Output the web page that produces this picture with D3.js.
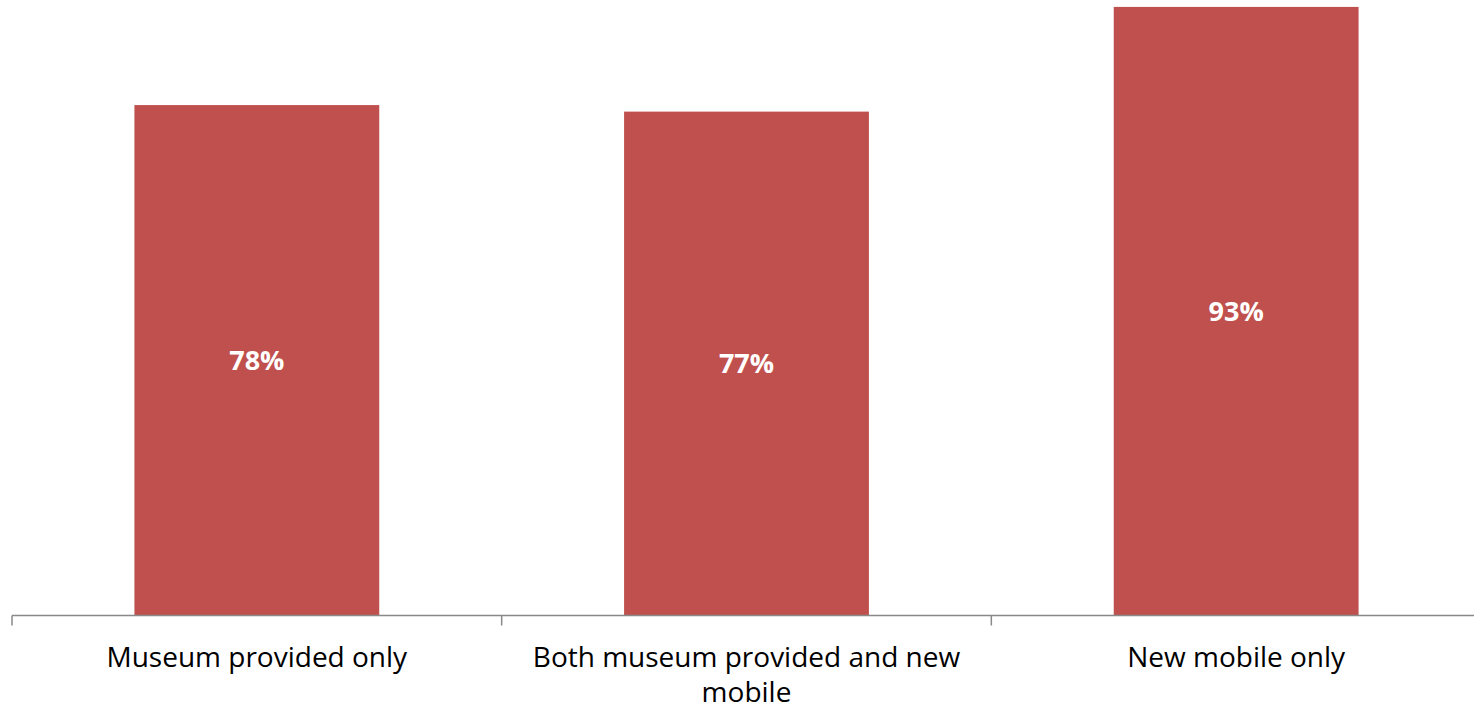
<!DOCTYPE html>
<html>
<head>
<meta charset="utf-8">
<script src="https://cdn.jsdelivr.net/npm/d3@7"></script>
<style>
  body { margin: 0; background: #fff; }
  text { font-family: "Open Sans", sans-serif; }
</style>
</head>
<body>
<svg width="1474" height="709"></svg>
<script>
var categories = ["Museum provided only", "Both museum provided and new mobile", "New mobile only"];
var values = [78, 77, 93];
var labelLines = [["Museum provided only"], ["Both museum provided and new", "mobile"], ["New mobile only"]];

var svg = d3.select("svg"),
    width = +svg.attr("width"),
    height = +svg.attr("height");

var baseY = 615.5;

var x = d3.scaleBand()
    .domain(categories)
    .range([12, 1481])
    .paddingInner(0.5)
    .paddingOuter(0.25);

var y = d3.scaleLinear()
    .domain([0, 100])
    .range([baseY, baseY - 654.4]);

// bars
svg.append("g")
    .selectAll("rect")
    .data(values)
    .enter().append("rect")
    .attr("x", function(d, i) { return x(categories[i]); })
    .attr("y", function(d) { return y(d); })
    .attr("width", x.bandwidth())
    .attr("height", function(d) { return y(0) - y(d); })
    .attr("fill", "#C0504D");

// value labels
svg.append("g")
    .selectAll("text")
    .data(values)
    .enter().append("text")
    .attr("x", function(d, i) { return x(categories[i]) + x.bandwidth() / 2; })
    .attr("y", function(d) { return (y(d) + y(0)) / 2; })
    .attr("dy", "0.36em")
    .attr("text-anchor", "middle")
    .attr("fill", "#fff")
    .attr("font-weight", "bold")
    .attr("font-size", 27)
    .text(function(d) { return d + "%"; });

// axis line + ticks at band edges
var axis = svg.append("g").attr("stroke", "#898989").attr("stroke-width", 1.5);
axis.append("line")
    .attr("x1", 12).attr("x2", width)
    .attr("y1", baseY).attr("y2", baseY);

var step = x.step();
var edges = d3.range(categories.length + 1).map(function(i) { return x.range()[0] + i * step; });
axis.selectAll("line.tick")
    .data(edges)
    .enter().append("line")
    .attr("class", "tick")
    .attr("x1", function(d) { return d; })
    .attr("x2", function(d) { return d; })
    .attr("y1", baseY)
    .attr("y2", baseY + 10);

// category labels
var cat = svg.append("g")
    .selectAll("text")
    .data(categories)
    .enter().append("text")
    .attr("x", function(d) { return x(d) + x.bandwidth() / 2; })
    .attr("y", 667)
    .attr("text-anchor", "middle")
    .attr("fill", "#000")
    .attr("font-size", 28);

cat.selectAll("tspan")
    .data(function(d, i) { return labelLines[i]; })
    .enter().append("tspan")
    .attr("x", function() { return d3.select(this.parentNode).attr("x"); })
    .attr("dy", function(d, i) { return i === 0 ? 0 : 35; })
    .text(function(d) { return d; });
</script>
</body>
</html>
